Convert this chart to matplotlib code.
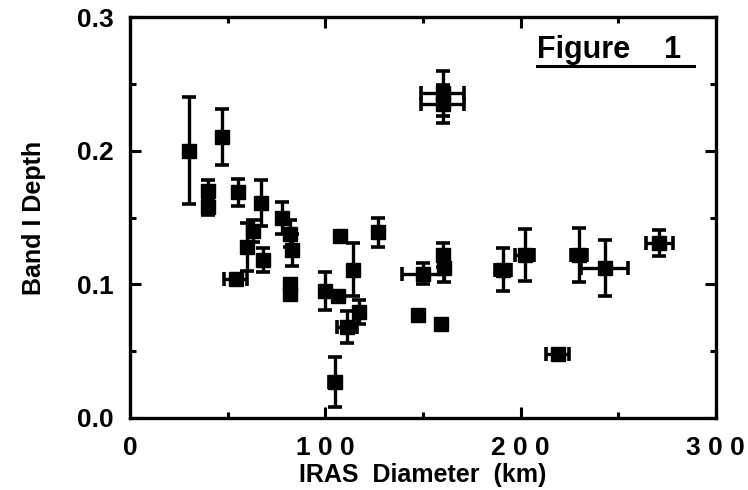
import matplotlib
matplotlib.use("Agg")
import matplotlib.pyplot as plt
from matplotlib.ticker import MultipleLocator, FixedLocator

# IRAS diameter (km), band I depth, and their uncertainties
diameter = [30, 47, 40, 40, 55, 67, 78, 60, 63, 68, 54, 82, 83, 82, 82,
            100, 106.5, 107.5, 114, 127, 117, 111, 105,
            160, 160, 150, 160, 161, 147.5, 159,
            191, 202, 230, 243, 219, 271]
depth = [0.200, 0.210, 0.170, 0.158, 0.169, 0.161, 0.150, 0.128, 0.140, 0.118, 0.104,
         0.138, 0.126, 0.100, 0.093,
         0.095, 0.091, 0.136, 0.111, 0.139, 0.079, 0.068, 0.027,
         0.243, 0.235, 0.108, 0.122, 0.112, 0.077, 0.070,
         0.111, 0.122, 0.122, 0.112, 0.048, 0.131]
diameter_err = [0, 0, 0, 0, 0, 0, 0, 0, 0, 0, 6, 0, 0, 0, 0,
                0, 0, 0, 0, 0, 0, 5, 3,
                11, 11, 11, 0, 0, 0, 0,
                4, 5, 4, 12, 6, 7]
depth_err = [0.040, 0.021, 0.008, 0.006, 0.010, 0.017, 0.012, 0.018, 0.008, 0.009, 0.0,
             0.010, 0.012, 0.0, 0.0,
             0.014, 0.0, 0.0, 0.020, 0.011, 0.009, 0.012, 0.019,
             0.017, 0.014, 0.008, 0.009, 0.010, 0.0, 0.0,
             0.016, 0.0195, 0.020, 0.021, 0.0, 0.010]

x_ticks = [0, 100, 200, 300]
x_tick_labels = ["0", "1 0 0", "2 0 0", "3 0 0"]
y_ticks = [0.0, 0.1, 0.2, 0.3]
y_tick_labels = ["0.0", "0.1", "0.2", "0.3"]

plt.rcParams['font.family'] = ['Liberation Sans', 'DejaVu Sans']
plt.rcParams['font.weight'] = 'bold'

fig = plt.figure(figsize=(7.48, 4.90), dpi=100)
ax = fig.add_axes([0.174, 0.147, 0.783, 0.818])

ax.errorbar(diameter, depth, xerr=diameter_err, yerr=depth_err, fmt='s',
            color='black', markersize=10.5, elinewidth=2.4, capsize=5,
            capthick=2.6, ecolor='black', markeredgecolor='black')

ax.set_xlim(0, 300)
ax.set_ylim(0.0, 0.3)

ax.xaxis.set_major_locator(FixedLocator(x_ticks))
ax.xaxis.set_minor_locator(MultipleLocator(50))
ax.yaxis.set_major_locator(FixedLocator(y_ticks))
ax.yaxis.set_minor_locator(MultipleLocator(0.05))
ax.set_xticklabels(x_tick_labels)
ax.set_yticklabels(y_tick_labels)

ax.tick_params(which='both', direction='in', top=True, right=True, width=2.2)
ax.tick_params(which='major', length=8, labelsize=19)
ax.tick_params(axis='x', which='major', pad=13)
ax.tick_params(axis='y', which='major', pad=12)
ax.tick_params(which='minor', length=4)
for lbl in ax.get_xticklabels() + ax.get_yticklabels():
    lbl.set_fontweight('bold')

for sp in ax.spines.values():
    sp.set_linewidth(2.4)

ax.set_xlabel("IRAS  Diameter  (km)", fontsize=18, fontweight='bold', labelpad=2)
ax.set_ylabel("Band I Depth", fontsize=18, fontweight='bold', labelpad=22)

ax.text(0.695, 0.955, "Figure    1", transform=ax.transAxes, ha='left', va='top',
        fontsize=22, fontweight='bold')
ax.plot([0.695, 0.962], [0.877, 0.877], transform=ax.transAxes, color='black',
        linewidth=2.2, clip_on=False)

fig.savefig("out.png", dpi=100)
